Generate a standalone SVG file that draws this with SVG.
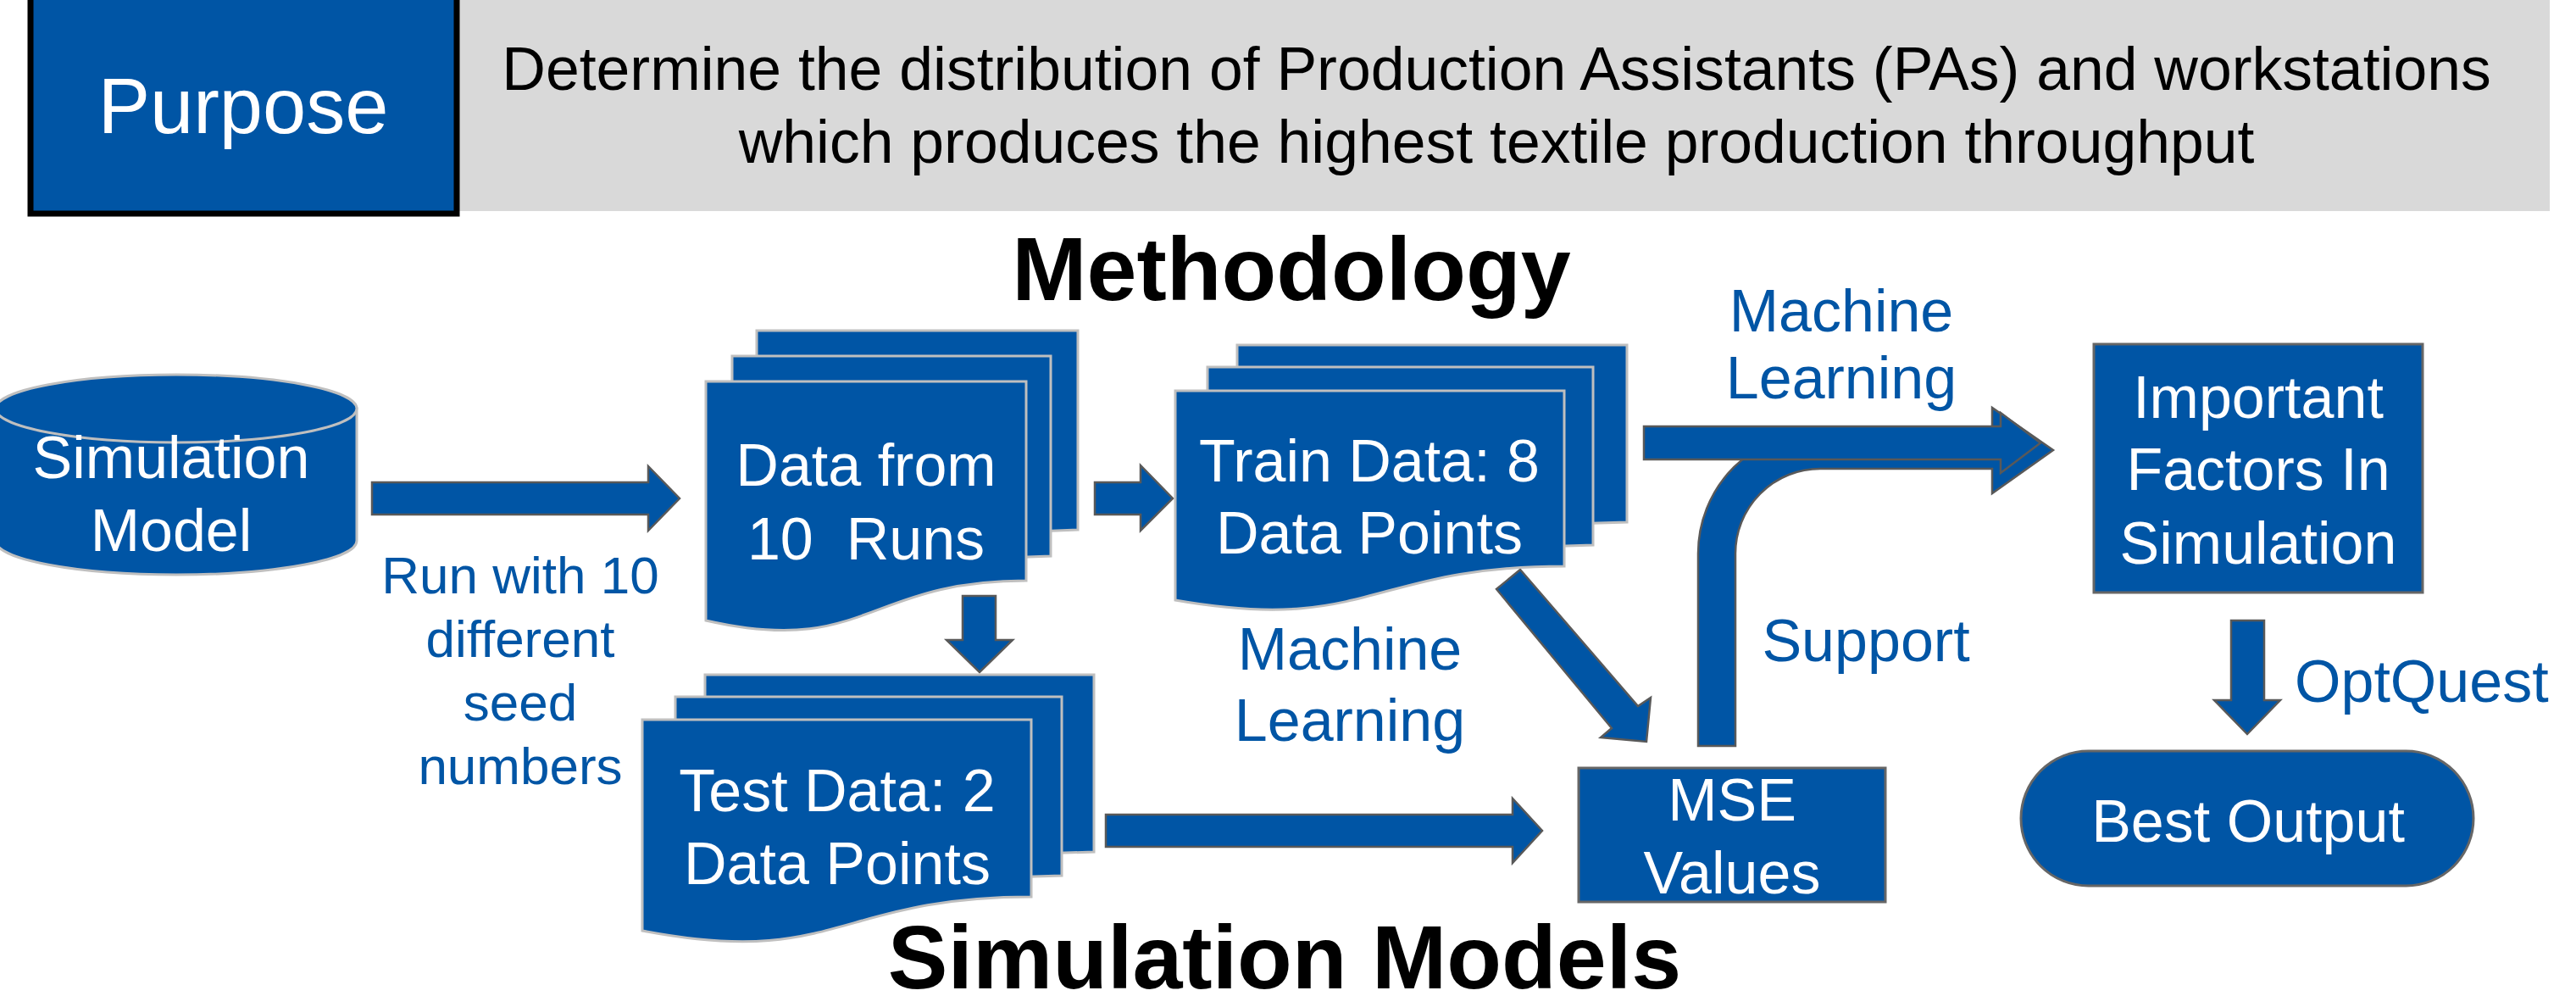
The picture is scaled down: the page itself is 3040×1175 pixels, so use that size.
<svg xmlns="http://www.w3.org/2000/svg" width="3040" height="1175" viewBox="0 0 3040 1175">
<style>
text{font-family:"Liberation Sans",Arial,sans-serif;}
.page{fill:#0055A5;stroke:#BFBFBF;stroke-width:3;}
.box{fill:#0055A5;stroke:#666666;stroke-width:3;}
.arrow{fill:#0055A5;stroke:#595959;stroke-width:2.5;stroke-linejoin:miter;}
.wt{fill:#FFFFFF;font-size:70px;text-anchor:middle;}
.lbl{fill:#0055A5;font-size:70px;text-anchor:middle;}
.hd{fill:#000000;font-size:106px;font-weight:bold;text-anchor:middle;}
.pt{fill:#000000;font-size:71.5px;text-anchor:middle;}
</style>
<rect width="3040" height="1175" fill="#FFFFFF"/>
<g id="purpose-band">
<rect x="541" y="0" width="2468" height="249" fill="#D9D9D9"/>
<text class="pt" x="1766" y="106">Determine the distribution of Production Assistants (PAs) and workstations</text>
<text class="pt" x="1766" y="192">which produces the highest textile production throughput</text>
</g>
<g id="purpose">
<rect x="36" y="-8" width="503" height="260" fill="#0055A5" stroke="#000000" stroke-width="7"/>
<text x="287" y="157" style="fill:#FFFFFF;font-size:92px;text-anchor:middle">Purpose</text>
</g>
<g id="title-methodology"><text class="hd" x="1524" y="354">Methodology</text></g>
<g id="title-simulation-models"><text class="hd" x="1516" y="1166">Simulation Models</text></g>

<g id="connectors">
<polygon class="arrow" points="439,569 765,569 765,550 802,588 765,626 765,607 439,607"/>
<polygon class="arrow" points="1292,569 1346,569 1346,549 1384,588 1346,626 1346,607 1292,607"/>
<polygon class="arrow" points="1136,703 1175,703 1175,755 1195,755 1156,793 1117,755 1136,755"/>
<polygon class="arrow" points="1305,961 1785,961 1785,942 1820,980 1785,1018 1785,999 1305,999"/>
<polygon class="arrow" points="1766,695 1794,672 1933,833 1948,823 1943,875 1889,870 1902,859"/>
<polygon class="arrow" points="2633,732 2672,732 2672,826 2691,826 2652,866 2613,826 2633,826"/>
<path class="arrow" d="M2004,880 V653 A144,144 0 0 1 2148,509 H2351 V481 L2423,531 L2351,582 V553 H2148 A100,100 0 0 0 2048,653 V880 Z"/>
<polygon class="arrow" points="1940,503 2361,503 2361,487 2408,522.5 2361,558 2361,542 1940,542"/>
<text class="lbl" x="614" y="700" style="font-size:62px">Run with 10</text>
<text class="lbl" x="614" y="775" style="font-size:62px">different</text>
<text class="lbl" x="614" y="850" style="font-size:62px">seed</text>
<text class="lbl" x="614" y="925" style="font-size:62px">numbers</text>
<text class="lbl" x="1593" y="790">Machine</text>
<text class="lbl" x="1593" y="874">Learning</text>
<text class="lbl" x="2173" y="391">Machine</text>
<text class="lbl" x="2173" y="470">Learning</text>
<text class="lbl" x="2202" y="780">Support</text>
<text class="lbl" x="2708" y="828" style="text-anchor:start">OptQuest</text>
</g>

<g id="simulation-model">
<path d="M-5,482 V638 A213,40 0 0 0 421,638 V482 Z" fill="#0055A5" stroke="#BFBFBF" stroke-width="3"/>
<ellipse cx="208" cy="482" rx="213" ry="40" fill="#0055A5" stroke="#BFBFBF" stroke-width="3"/>
<text class="wt" x="202" y="564">Simulation</text>
<text class="wt" x="202" y="650">Model</text>
</g>

<g id="data-10-runs">
<path class="page" d="M893,390 H1272 V625 L893,640 Z"/>
<path class="page" d="M864,420 H1240 V656 L864,670 Z"/>
<path class="page" d="M833,450 H1211 V685 C1022,685 1022,775 833,732 Z"/>
<text class="wt" x="1022" y="573">Data from</text>
<text class="wt" x="1022" y="660" xml:space="preserve">10  Runs</text>
</g>

<g id="train-data">
<path class="page" d="M1460,407 H1920 V616 L1460,630 Z"/>
<path class="page" d="M1425,433 H1880 V643 L1425,657 Z"/>
<path class="page" d="M1387,461 H1846 V668 C1616,668 1616,748 1387,708 Z"/>
<text class="wt" x="1616" y="568">Train Data: 8</text>
<text class="wt" x="1616" y="653">Data Points</text>
</g>

<g id="test-data">
<path class="page" d="M832,796 H1291 V1005 L832,1020 Z"/>
<path class="page" d="M797,822 H1253 V1033 L797,1047 Z"/>
<path class="page" d="M758,849 H1217 V1058 C987,1058 987,1142 758,1098 Z"/>
<text class="wt" x="988" y="957">Test Data: 2</text>
<text class="wt" x="988" y="1043">Data Points</text>
</g>

<g id="mse-values">
<rect class="box" x="1863" y="906" width="362" height="158"/>
<text class="wt" x="2044" y="968">MSE</text>
<text class="wt" x="2044" y="1054">Values</text>
</g>

<g id="important-factors">
<rect class="box" x="2471" y="406" width="388" height="293"/>
<text class="wt" x="2665" y="493">Important</text>
<text class="wt" x="2665" y="578">Factors In</text>
<text class="wt" x="2665" y="665">Simulation</text>
</g>

<g id="best-output">
<rect class="box" x="2385" y="886" width="534" height="159" rx="79.5" ry="79.5"/>
<text class="wt" x="2653" y="993">Best Output</text>
</g>
</svg>
